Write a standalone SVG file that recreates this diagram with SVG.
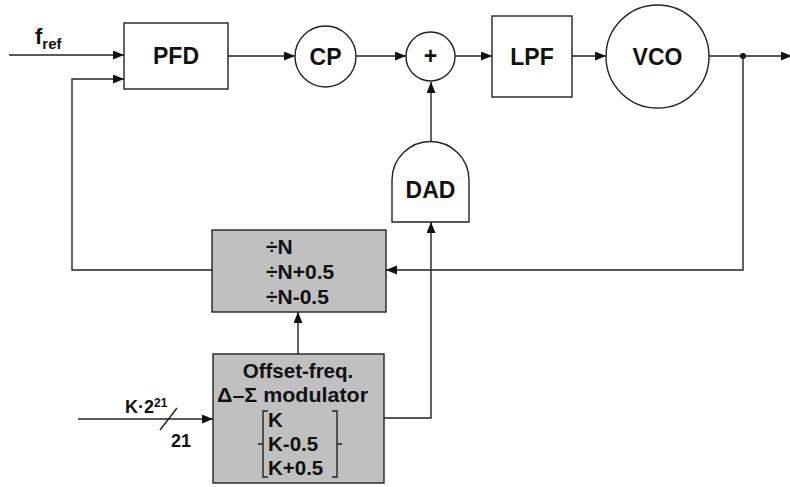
<svg xmlns="http://www.w3.org/2000/svg" width="790" height="487" viewBox="0 0 790 487">
<style>
.s{fill:none;stroke:#222;stroke-width:1.4}
.b{fill:#fff;stroke:#222;stroke-width:1.4}
.g{fill:#c0c0c0;stroke:#222;stroke-width:1.4}
text{font-family:"Liberation Sans",Arial,sans-serif;font-weight:bold;fill:#111}
.t20{font-size:23px;text-anchor:middle}
.t18{font-size:18px}
.d{font-size:21px}
.m{font-size:20.5px}
.c{text-anchor:middle}
</style>
<defs>
<marker id="ah" markerUnits="userSpaceOnUse" markerWidth="12" markerHeight="10" refX="11" refY="4.5" orient="auto">
<path d="M0,0 L11,4.5 L0,9 Z" fill="#111"/>
</marker>
</defs>
<g id="connectors">
<line class="s" x1="9" y1="55" x2="124" y2="55" marker-end="url(#ah)"/>
<path class="s" d="M212,270 H72 V79 H124" marker-end="url(#ah)"/>
<line class="s" x1="228" y1="56" x2="295" y2="56" marker-end="url(#ah)"/>
<line class="s" x1="356" y1="56" x2="406" y2="56" marker-end="url(#ah)"/>
<line class="s" x1="455" y1="56" x2="492" y2="56" marker-end="url(#ah)"/>
<line class="s" x1="572" y1="56" x2="606" y2="56" marker-end="url(#ah)"/>
<line class="s" x1="709" y1="56" x2="792" y2="56" marker-end="url(#ah)"/>
<circle cx="743" cy="56" r="3" fill="#111"/>
<path class="s" d="M743,56 V270 H386" marker-end="url(#ah)"/>
<line class="s" x1="431" y1="142" x2="431" y2="82" marker-end="url(#ah)"/>
<path class="s" d="M384,418 H431 V222" marker-end="url(#ah)"/>
<line class="s" x1="298" y1="354" x2="298" y2="312" marker-end="url(#ah)"/>
<line class="s" x1="78" y1="419" x2="213" y2="419" marker-end="url(#ah)"/>
<line class="s" x1="160" y1="430" x2="177" y2="408"/>
<text class="t18" x="125" y="413">K·2<tspan font-size="12" dy="-6">21</tspan></text>
<text class="t18" x="171" y="447">21</text>
<text x="35" y="44" font-size="22">f<tspan font-size="15" dy="5">ref</tspan></text>
</g>
<g id="pfd">
<rect class="b" x="124" y="23" width="104" height="66"/>
<text class="t20" x="176" y="63.5" font-size="22">PFD</text>
</g>
<g id="cp">
<circle class="b" cx="325.5" cy="56.5" r="30.5"/>
<text class="t20" x="325.5" y="64.5">CP</text>
</g>
<g id="sum">
<circle class="b" cx="430.5" cy="56.5" r="24.5"/>
<text class="t20" x="430.5" y="64" font-size="21">+</text>
</g>
<g id="lpf">
<rect class="b" x="492" y="16" width="80" height="81"/>
<text class="t20" x="532" y="64.5" font-size="24">LPF</text>
</g>
<g id="vco">
<circle class="b" cx="657.5" cy="56.5" r="51.5"/>
<text class="t20" x="657.5" y="64.5">VCO</text>
</g>
<g id="dad">
<path class="b" d="M392,222 V180 A38.5,38.5 0 0 1 469,180 V222 Z"/>
<text class="t20" x="430.5" y="197.5">DAD</text>
</g>
<g id="divider">
<rect class="g" x="212" y="230" width="174" height="82"/>
<text class="d" x="266" y="254">÷N</text>
<text class="d" x="266" y="279">÷N+0.5</text>
<text class="d" x="266" y="304">÷N-0.5</text>
</g>
<g id="modulator">
<rect class="g" x="213" y="354" width="171" height="129"/>
<text class="m c" x="298" y="378">Offset-freq.</text>
<text class="m" x="217" y="402" textLength="151" lengthAdjust="spacingAndGlyphs">Δ–Σ modulator</text>
<text class="m" x="268" y="427">K</text>
<text class="m" x="268" y="451">K-0.5</text>
<text class="m" x="268" y="475">K+0.5</text>
<path class="s" d="M268,411 H263 V477 H268 M263,444 H258"/>
<path class="s" d="M332,411 H337 V477 H332 M337,444 H342"/>
</g>
</svg>
